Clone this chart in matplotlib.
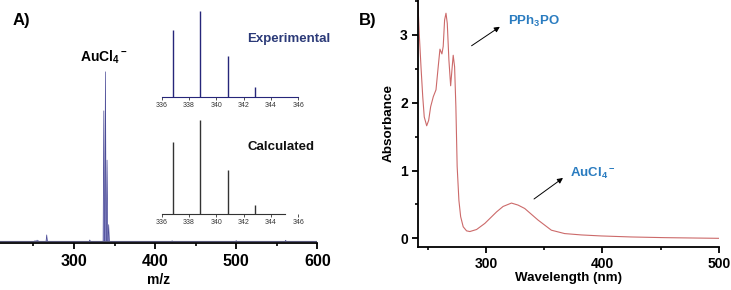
import matplotlib.pyplot as plt
from matplotlib.ticker import MultipleLocator

plt.rcParams['font.family'] = ['Liberation Sans', 'DejaVu Sans']
plt.rcParams['mathtext.fontset'] = 'custom'
plt.rcParams['mathtext.rm'] = 'Liberation Sans:bold'
plt.rcParams['mathtext.bf'] = 'Liberation Sans:bold'
plt.rcParams['mathtext.default'] = 'bf'

# --- data: ESI-MS (panel A) ---
ms_mz = [252.0, 254.5, 256.0, 266.4, 319.5, 336.8, 338.8, 340.8, 342.8, 421.0, 500.0, 561.0]
ms_int = [0.006, 0.009, 0.005, 0.040, 0.010, 0.77, 1.00, 0.48, 0.10, 0.005, 0.006, 0.008]

iso_mz = [336.83, 338.84, 340.83, 342.82]
iso_exp = [0.78, 1.00, 0.48, 0.115]
iso_calc = [0.77, 1.00, 0.47, 0.10]

# --- data: UV-vis (panel B) ---
wl = [241.0, 242.5, 244.0, 245.5, 246.8, 248.9, 250.6, 252.3, 254.6, 256.9,
      258.8, 260.3, 262.0, 263.1, 264.3, 265.5, 266.6, 268.0, 269.5, 270.6,
      271.7, 272.9, 274.0, 275.1, 276.6, 278.1, 280.3, 283.2, 286.0, 291.8,
      298.9, 309.0, 314.6, 321.8, 327.5, 333.2, 344.6, 356.1, 367.5, 381.9,
      399.0, 424.8, 453.3, 500.0]
absb = [3.60, 3.02, 2.53, 2.09, 1.79, 1.66, 1.74, 1.94, 2.09, 2.19,
        2.53, 2.79, 2.72, 2.83, 3.22, 3.32, 3.17, 2.63, 2.25, 2.48,
        2.70, 2.53, 1.94, 1.06, 0.56, 0.32, 0.17, 0.11, 0.10, 0.13,
        0.22, 0.39, 0.47, 0.52, 0.49, 0.44, 0.27, 0.12, 0.07, 0.05,
        0.035, 0.02, 0.01, 0.0]

W, H = 731, 290
fig = plt.figure(figsize=(W / 100, H / 100), dpi=100)


def px_axes(x0, y0, x1, y1):
    return fig.add_axes([x0 / W, 1 - y1 / H, (x1 - x0) / W, (y1 - y0) / H])


def only_bottom(ax):
    for s in ['top', 'right', 'left']:
        ax.spines[s].set_visible(False)
    ax.set_yticks([])


# ---------------- panel A main ----------------
axA = px_axes(0, 10, 317.3, 242.5)
only_bottom(axA)
axA.patch.set_alpha(0)
hw = 0.9
for c, h in zip(ms_mz, ms_int):
    xs = [c - hw, c, c + hw]
    ys = [0, h, 0]
    axA.fill(xs, ys, color='#9c9cd8', lw=0)
    axA.plot(xs, ys, color='#4a4a96', lw=0.5)
axA.axhline(0.002, color='#555577', lw=0.8)
axA.set_xlim(208.8, 600)
axA.set_ylim(-0.005, 1.364)
axA.xaxis.set_major_locator(MultipleLocator(100))
axA.xaxis.set_minor_locator(MultipleLocator(50))
axA.spines['bottom'].set_linewidth(1.3)
axA.tick_params(axis='x', which='major', length=4, width=1.3, labelsize=11.5, pad=4)
axA.tick_params(axis='x', which='minor', length=2.5, width=1.2)
for lab in axA.get_xticklabels():
    lab.set_fontweight('bold')
axA.set_xlabel('m/z', fontsize=10, fontweight='bold', labelpad=3)
fig.text(104 / W, 1 - 57 / H, 'AuCl$_4{}^-$', fontsize=10, fontweight='bold',
         ha='center', va='center')

# ---------------- insets ----------------
def inset(y0, y1, heights, color, ytop, spine_end):
    ax = px_axes(161.7, y0, 298.3, y1)
    only_bottom(ax)
    ax.patch.set_alpha(0)
    ax.vlines(iso_mz, 0, heights, color=color, lw=1.0)
    ax.set_xlim(336, 346)
    ax.set_ylim(0, ytop)
    ax.set_xticks(range(336, 347, 2))
    ax.spines['bottom'].set_color(color)
    ax.spines['bottom'].set_linewidth(0.8)
    ax.spines['bottom'].set_bounds(336, spine_end)
    ax.tick_params(axis='x', length=2, width=0.6, labelsize=5, pad=1.5,
                   colors='#333333')
    return ax


inset(8, 97.3, iso_exp, '#26267a', 1.035, 346)
inset(115, 214, iso_calc, '#333333', 1.053, 345)

fig.text(247 / W, 1 - 39 / H, 'Experimental', fontsize=9.5, fontweight='bold',
         color='#2b3a78', va='center', ha='left')
fig.text(247 / W, 1 - 147 / H, 'Calculated', fontsize=9.5, fontweight='bold',
         color='#111111', va='center', ha='left')

# ---------------- panel B ----------------
axB = px_axes(417.5, 0, 718.7, 247)
for s in ['top', 'right']:
    axB.spines[s].set_visible(False)
for s in ['left', 'bottom']:
    axB.spines[s].set_linewidth(1.3)
axB.plot(wl, absb, color='#cc6a6a', lw=0.8)
axB.set_xlim(241, 500)
axB.set_ylim(-0.128, 3.515)
axB.xaxis.set_major_locator(MultipleLocator(100))
axB.xaxis.set_minor_locator(MultipleLocator(50))
axB.yaxis.set_major_locator(MultipleLocator(1))
axB.yaxis.set_minor_locator(MultipleLocator(0.5))
axB.tick_params(which='major', length=4, width=1.3, labelsize=10, pad=3)
axB.tick_params(which='minor', length=2.5, width=1.2)
for lab in axB.get_xticklabels() + axB.get_yticklabels():
    lab.set_fontweight('bold')
axB.set_xlabel('Wavelength (nm)', fontsize=9.6, fontweight='bold', labelpad=1)
axB.set_ylabel('Absorbance', fontsize=9.7, fontweight='bold', labelpad=4)

arrow = dict(arrowstyle='-|>', color='black', lw=0.7, mutation_scale=8,
             shrinkA=0, shrinkB=0)
axB.annotate('', xy=(311.8, 3.12), xytext=(287.5, 2.84), arrowprops=arrow)
axB.annotate('', xy=(366.1, 0.89), xytext=(341.2, 0.58), arrowprops=arrow)
axB.text(319, 3.2, 'PPh$_3$PO', fontsize=9.5, fontweight='bold',
         color='#2a7cc0', va='center', ha='left')
axB.text(371.8, 0.96, 'AuCl$_4{}^-$', fontsize=9.5, fontweight='bold',
         color='#2a7cc0', va='center', ha='left')

fig.text(12.7 / W, 1 - 21 / H, 'A)', fontsize=12, fontweight='bold', va='center')
fig.text(359 / W, 1 - 21 / H, 'B)', fontsize=12, fontweight='bold', va='center')

fig.savefig('out.png', dpi=100)
